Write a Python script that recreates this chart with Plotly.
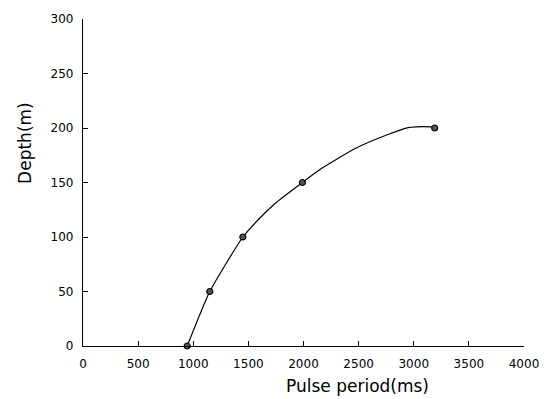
import plotly.graph_objects as go

# measured data points
period_ms = [945, 1150, 1450, 1990, 3190]
depth_m = [0, 50, 100, 150, 200]

# points
curve_x = [945, 1150, 1450, 1600, 1745, 1990, 2165, 2465, 2765, 2950, 3070, 3190]
curve_y = [0, 50, 100, 117, 131, 150, 163, 181, 194, 200.4, 201.3, 201]

x_ticks = [0, 500, 1000, 1500, 2000, 2500, 3000, 3500, 4000]
y_ticks = [0, 50, 100, 150, 200, 250, 300]

font = "DejaVu Sans"
L, R, T, B = 83, 24, 15, 53
W, H = 551, 399

fig = go.Figure()
fig.add_trace(go.Scatter(x=curve_x, y=curve_y, mode="lines",
                         line=dict(color="black", width=1.2, shape="spline", smoothing=0.5),
                         hoverinfo="skip", showlegend=False))
fig.add_trace(go.Scatter(x=period_ms, y=depth_m, mode="markers",
                         marker=dict(color="#555", size=6, line=dict(color="black", width=1.2)),
                         showlegend=False, cliponaxis=False))

pw, ph = W - L - R, H - T - B


def paper(px, py):
    return (px - L) / pw, (H - B - py) / ph


ax, ay = paper(359, 386)
bx, by = paper(25, 140)
fig.update_layout(
    width=W, height=H,
    margin=dict(l=L, r=R, t=T, b=B),
    plot_bgcolor="white", paper_bgcolor="white",
    font=dict(family=font, color="black", size=12),
    annotations=[
        dict(text="Pulse period(ms)", x=ax, y=ay, xref="paper", yref="paper",
             showarrow=False, font=dict(size=17, family=font),
             xanchor="center", yanchor="middle"),
        dict(text="Depth(m)", x=bx, y=by, xref="paper", yref="paper",
             showarrow=False, textangle=-90, font=dict(size=17, family=font),
             xanchor="center", yanchor="middle"),
    ],
)

fig.update_xaxes(range=[0, 4000], tickvals=x_ticks, ticks="inside", ticklen=5,
                 tickcolor="black", showline=True, linecolor="black", linewidth=1.3,
                 showgrid=False, zeroline=False, tickfont=dict(size=12),
                 ticklabelstandoff=6)
fig.update_yaxes(range=[0, 300], tickvals=y_ticks, ticks="inside", ticklen=5,
                 tickcolor="black", showline=True, linecolor="black", linewidth=1.3,
                 showgrid=False, zeroline=False, tickfont=dict(size=12),
                 ticklabelstandoff=6)

fig.write_html("out.html")
